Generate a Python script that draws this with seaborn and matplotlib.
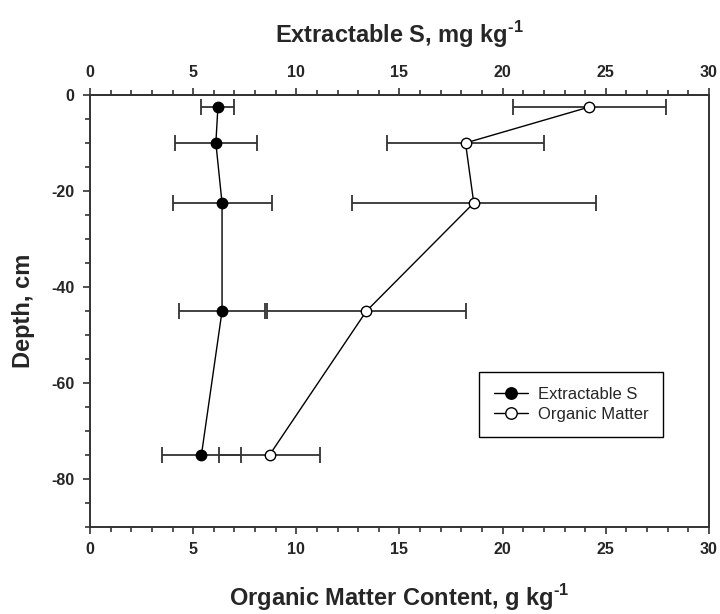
import matplotlib
matplotlib.use('Agg')
import matplotlib.pyplot as plt
from matplotlib.ticker import MultipleLocator
import seaborn as sns
import pandas as pd

# values
depth = [-2.5, -10, -22.5, -45, -75]
s_mean = [6.2, 6.1, 6.4, 6.4, 5.4]
s_err = [0.8, 2.0, 2.4, 2.1, 1.9]
om_mean = [24.2, 18.2, 18.6, 13.4, 8.7]
om_err = [3.7, 3.8, 5.9, 4.8, 2.45]

sns.set_style('ticks')
plt.rcParams['font.family'] = ['Liberation Sans', 'DejaVu Sans']
plt.rcParams['font.weight'] = 'bold'
plt.rcParams['axes.unicode_minus'] = False
plt.rcParams['mathtext.fontset'] = 'custom'
plt.rcParams['mathtext.rm'] = 'Liberation Sans:bold'
plt.rcParams['mathtext.bf'] = 'Liberation Sans:bold'

df = pd.DataFrame({'depth': depth, 's': s_mean, 's_err': s_err,
                   'om': om_mean, 'om_err': om_err})

fig = plt.figure(figsize=(7.2, 6.14), dpi=100)
ax = fig.add_axes([0.125, 0.1417, 0.8597, 0.7036])

ebar = dict(fmt='none', ecolor='#333333', elinewidth=1.3, capsize=6, capthick=1.3)
ax.errorbar(df['s'], df['depth'], xerr=df['s_err'], **ebar)
ax.errorbar(df['om'], df['depth'], xerr=df['om_err'], **ebar)

sns.lineplot(data=df, x='s', y='depth', sort=False, estimator=None, ax=ax,
             color='black', lw=1, marker='o', markersize=7.5,
             markerfacecolor='black', markeredgecolor='black', markeredgewidth=1,
             label='Extractable S')
sns.lineplot(data=df, x='om', y='depth', sort=False, estimator=None, ax=ax,
             color='black', lw=1, marker='o', markersize=7.5,
             markerfacecolor='white', markeredgecolor='black', markeredgewidth=1,
             label='Organic Matter')

ax.set_xlim(0, 30)
ax.set_ylim(-90, 0)
ax.xaxis.set_major_locator(MultipleLocator(5))
ax.xaxis.set_minor_locator(MultipleLocator(1))
ax.yaxis.set_major_locator(MultipleLocator(20))
ax.yaxis.set_minor_locator(MultipleLocator(5))

spine_c = '#333333'
for s in ax.spines.values():
    s.set_color(spine_c)
    s.set_linewidth(1.4)

tick_kw = dict(direction='out', color=spine_c, width=1.2)
ax.tick_params(which='major', length=5, labelsize=11.5, pad=6, **tick_kw)
ax.tick_params(which='minor', length=3.5, **tick_kw)
for lab in ax.get_xticklabels() + ax.get_yticklabels():
    lab.set_fontweight('bold')

top = ax.secondary_xaxis('top')
top.xaxis.set_major_locator(MultipleLocator(5))
top.xaxis.set_minor_locator(MultipleLocator(1))
top.tick_params(which='major', length=5, labelsize=11.5, pad=6, **tick_kw)
top.tick_params(which='minor', length=3.5, **tick_kw)
for lab in top.get_xticklabels():
    lab.set_fontweight('bold')
top.spines['top'].set_color(spine_c)
top.spines['top'].set_linewidth(1.4)
top.set_xlabel(r'Extractable S, mg kg$^{\text{-1}}$', fontsize=17, fontweight='bold', labelpad=16)

ax.set_xlabel(r'Organic Matter Content, g kg$^{\text{-1}}$', fontsize=17, fontweight='bold', labelpad=18)
ax.set_ylabel('Depth, cm', fontsize=17, fontweight='bold', labelpad=12)

leg = ax.legend(loc='lower left', bbox_to_anchor=(0.629, 0.209), borderaxespad=0,
                prop={'size': 12, 'weight': 'normal'}, fancybox=False,
                edgecolor='black', framealpha=1,
                handlelength=2.0, handletextpad=0.6, borderpad=0.9, labelspacing=0.3,
                markerscale=1.1)
leg.get_frame().set_linewidth(1)

fig.savefig('out.png', dpi=100)
